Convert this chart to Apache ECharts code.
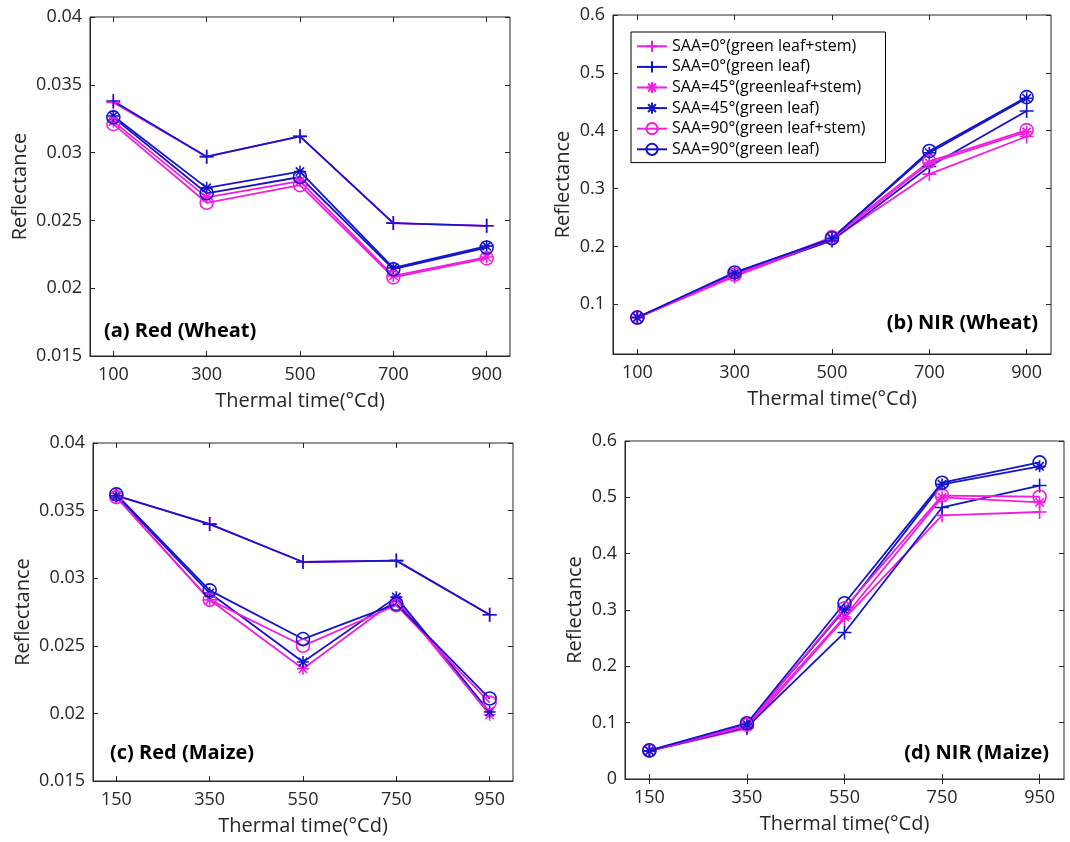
<!DOCTYPE html>
<html>
<head>
<meta charset="utf-8">
<script src="https://cdn.jsdelivr.net/npm/echarts@6/dist/echarts.min.js"></script>
<style>html,body{margin:0;padding:0;background:#fff;}#chart{width:1070px;height:842px;}</style>
</head>
<body>
<div id="chart"></div>
<script>
// ---- data ----
const seriesNames = ['SAA=0°(green leaf+stem)', 'SAA=0°(green leaf)', 'SAA=45°(greenleaf+stem)', 'SAA=45°(green leaf)', 'SAA=90°(green leaf+stem)', 'SAA=90°(green leaf)'];
const xWheat = [100, 300, 500, 700, 900];
const xMaize = [150, 350, 550, 750, 950];
const yTicksRed = [0.015, 0.02, 0.025, 0.03, 0.035, 0.04];
const yTicksNIRWheat = [0.1, 0.2, 0.3, 0.4, 0.5, 0.6];
const yTicksNIRMaize = [0, 0.1, 0.2, 0.3, 0.4, 0.5, 0.6];
const panelTitles = ['(a) Red (Wheat)', '(b) NIR (Wheat)', '(c) Red (Maize)', '(d) NIR (Maize)'];
const xAxisTitle = 'Thermal time(°Cd)';
const yAxisTitle = 'Reflectance';

// (a) Red (Wheat)
const redWheat_0stem  = [0.0337, 0.0297, 0.0312, 0.0248, 0.0246];
const redWheat_0leaf  = [0.0338, 0.0297, 0.0312, 0.0248, 0.0246];
const redWheat_45stem = [0.0323, 0.0267, 0.0279, 0.0209, 0.0223];
const redWheat_45leaf = [0.0327, 0.0274, 0.0286, 0.0215, 0.0231];
const redWheat_90stem = [0.0321, 0.0263, 0.0276, 0.0208, 0.0222];
const redWheat_90leaf = [0.0326, 0.0270, 0.0282, 0.0214, 0.0230];
// (b) NIR (Wheat)
const nirWheat_0stem  = [0.077, 0.148, 0.212, 0.325, 0.390];
const nirWheat_0leaf  = [0.077, 0.152, 0.210, 0.338, 0.434];
const nirWheat_45stem = [0.077, 0.150, 0.213, 0.344, 0.398];
const nirWheat_45leaf = [0.077, 0.154, 0.214, 0.362, 0.456];
const nirWheat_90stem = [0.077, 0.151, 0.216, 0.347, 0.401];
const nirWheat_90leaf = [0.077, 0.155, 0.214, 0.365, 0.458];
// (c) Red (Maize)
const redMaize_0stem  = [0.0361, 0.0340, 0.0312, 0.0313, 0.0273];
const redMaize_0leaf  = [0.0361, 0.0340, 0.0312, 0.0313, 0.0273];
const redMaize_45stem = [0.0360, 0.0284, 0.0233, 0.0284, 0.0199];
const redMaize_45leaf = [0.0361, 0.0289, 0.0238, 0.0286, 0.0201];
const redMaize_90stem = [0.0360, 0.0284, 0.0250, 0.0280, 0.0208];
const redMaize_90leaf = [0.0362, 0.0291, 0.0255, 0.0281, 0.0211];
// (d) NIR (Maize)
const nirMaize_0stem  = [0.050, 0.090, 0.285, 0.468, 0.474];
const nirMaize_0leaf  = [0.050, 0.092, 0.260, 0.482, 0.521];
const nirMaize_45stem = [0.050, 0.094, 0.288, 0.500, 0.491];
const nirMaize_45leaf = [0.050, 0.097, 0.300, 0.523, 0.555];
const nirMaize_90stem = [0.050, 0.096, 0.303, 0.503, 0.501];
const nirMaize_90leaf = [0.051, 0.099, 0.312, 0.526, 0.562];

// ---- styling / layout ----
const MAG = '#f01ee0', BLU = '#1414cc', AX = '#262626';
const FONT = '"Open Sans", "Noto Sans", sans-serif';
const PLUS = 'path://M0,5L10,5M5,0L5,10';
const STAR = 'path://M0,5L10,5M5,0L5,10M1.5,1.5L8.5,8.5M8.5,1.5L1.5,8.5';
const styles = [
  {c: MAG, s: PLUS, z: 14}, {c: BLU, s: PLUS, z: 14},
  {c: MAG, s: STAR, z: 12}, {c: BLU, s: STAR, z: 12},
  {c: MAG, s: 'circle', z: 13}, {c: BLU, s: 'circle', z: 13}
];

const panels = [
  {grid: {left: 90, top: 17, width: 420, height: 339}, x: xWheat, xmin: 50, xmax: 950, ymin: 0.015, ymax: 0.04, yt: yTicksRed, yGap: 60,
   data: [redWheat_0stem, redWheat_0leaf, redWheat_45stem, redWheat_45leaf, redWheat_90stem, redWheat_90leaf]},
  {grid: {left: 613, top: 15, width: 438, height: 339}, x: xWheat, xmin: 50, xmax: 950, ymin: 0.014, ymax: 0.6, yt: yTicksNIRWheat, yGap: 40,
   data: [nirWheat_0stem, nirWheat_0leaf, nirWheat_45stem, nirWheat_45leaf, nirWheat_90stem, nirWheat_90leaf]},
  {grid: {left: 93, top: 443, width: 420, height: 338}, x: xMaize, xmin: 100, xmax: 1000, ymin: 0.015, ymax: 0.04, yt: yTicksRed, yGap: 60,
   data: [redMaize_0stem, redMaize_0leaf, redMaize_45stem, redMaize_45leaf, redMaize_90stem, redMaize_90leaf]},
  {grid: {left: 625, top: 441, width: 439, height: 338}, x: xMaize, xmin: 100, xmax: 1000, ymin: 0, ymax: 0.6, yt: yTicksNIRMaize, yGap: 40,
   data: [nirMaize_0stem, nirMaize_0leaf, nirMaize_45stem, nirMaize_45leaf, nirMaize_90stem, nirMaize_90leaf]}
];

const fmt = v => String(+(+v).toFixed(4));
const grids = [], xAxes = [], yAxes = [], series = [];
panels.forEach((p, i) => {
  grids.push(Object.assign({show: true, borderColor: AX, borderWidth: 1, containLabel: false}, p.grid));
  const tick = vals => ({show: true, inside: true, length: 5, lineStyle: {color: AX, width: 1}, customValues: vals});
  xAxes.push({
    type: 'value', gridIndex: i, position: 'bottom', min: p.xmin, max: p.xmax,
    axisLine: {show: true, lineStyle: {color: AX}}, splitLine: {show: false},
    axisTick: tick(p.x),
    axisLabel: {customValues: p.x, color: AX, fontSize: 18, fontFamily: FONT, margin: 10, formatter: fmt},
    name: xAxisTitle, nameLocation: 'middle', nameGap: 35,
    nameTextStyle: {color: AX, fontSize: 20, fontFamily: FONT}
  });
  xAxes.push({
    type: 'value', gridIndex: i, position: 'top', min: p.xmin, max: p.xmax,
    axisLine: {show: false}, splitLine: {show: false}, axisLabel: {show: false}, axisTick: tick(p.x)
  });
  yAxes.push({
    type: 'value', gridIndex: i, position: 'left', min: p.ymin, max: p.ymax,
    axisLine: {show: true, lineStyle: {color: AX}}, splitLine: {show: false},
    axisTick: tick(p.yt),
    axisLabel: {customValues: p.yt, color: AX, fontSize: 18, fontFamily: FONT, margin: 8, formatter: fmt},
    name: yAxisTitle, nameLocation: 'middle', nameGap: p.yGap,
    nameTextStyle: {color: AX, fontSize: 20, fontFamily: FONT}
  });
  yAxes.push({
    type: 'value', gridIndex: i, position: 'right', min: p.ymin, max: p.ymax,
    axisLine: {show: false}, splitLine: {show: false}, axisLabel: {show: false}, axisTick: tick(p.yt)
  });
  p.data.forEach((vals, k) => {
    const st = styles[k];
    series.push({
      type: 'line', name: seriesNames[k], xAxisIndex: 2 * i, yAxisIndex: 2 * i,
      data: p.x.map((xv, j) => [xv, vals[j]]),
      symbol: st.s, symbolSize: st.z, showAllSymbol: true,
      lineStyle: {color: st.c, width: 1.8},
      itemStyle: {color: 'rgba(0,0,0,0)', borderColor: st.c, borderWidth: 1.6},
      emphasis: {disabled: true}, animation: false
    });
  });
});

const titlePos = [
  {x: 104, y: 331, align: 'left'},
  {x: 1038, y: 323, align: 'right'},
  {x: 110, y: 753, align: 'left'},
  {x: 1049, y: 753, align: 'right'}
];
const graphics = panelTitles.map((t, i) => ({
  type: 'text', x: titlePos[i].x, y: titlePos[i].y, z: 100,
  style: {text: t, fill: '#000', font: 'bold 20px ' + FONT, align: titlePos[i].align, verticalAlign: 'middle'}
}));

const chart = echarts.init(document.getElementById('chart'), null, {renderer: 'canvas'});
chart.setOption({
  backgroundColor: '#fff',
  animation: false,
  grid: grids, xAxis: xAxes, yAxis: yAxes, series: series,
  legend: {
    data: seriesNames, orient: 'vertical', left: 631, top: 32,
    backgroundColor: '#fff', borderColor: '#000', borderWidth: 1,
    padding: [4, 20, 3, 5], itemWidth: 30, itemHeight: 14, itemGap: 0,
    textStyle: {color: '#000', fontSize: 16, fontFamily: FONT, lineHeight: 20.6},
    selectedMode: false
  },
  graphic: graphics
});
</script>
</body>
</html>
